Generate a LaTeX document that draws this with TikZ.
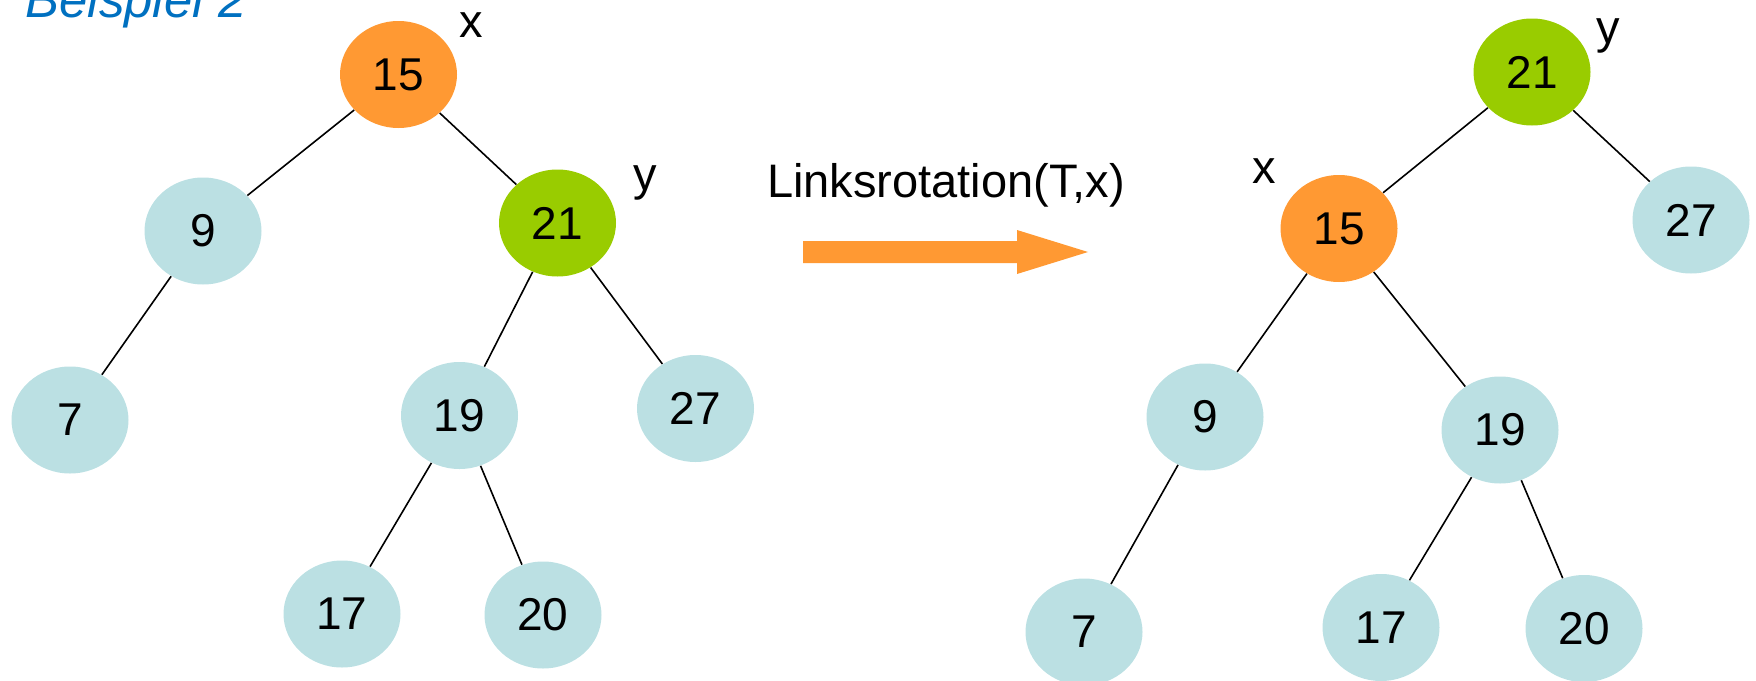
\documentclass[tikz,border=0pt]{standalone}
\usepackage{fontspec}
\setmainfont{Liberation Sans}
\usetikzlibrary{shapes.geometric}
\definecolor{nodeblue}{HTML}{BBE0E3}
\definecolor{xorange}{HTML}{FF9933}
\definecolor{ygreen}{HTML}{99CC00}
\definecolor{titleblue}{HTML}{0070C0}
\begin{document}
\begin{tikzpicture}[x=0.5pt,y=-0.5pt,
  tnode/.style={ellipse, fill=nodeblue, inner sep=0pt, minimum width=58.5pt, minimum height=53.5pt, font=\fontsize{23}{27}\selectfont},
  xnode/.style={tnode, fill=xorange},
  ynode/.style={tnode, fill=ygreen},
  conn/.style={draw=black, line width=0.8pt},
  lbl/.style={font=\fontsize{23.5}{27}\selectfont, anchor=base, inner sep=0pt},
  bigarrow/.style={fill=xorange, draw=none}]
\useasboundingbox (0,0) rectangle (1756,680);

% title
\node[anchor=base west, inner sep=0pt, text=titleblue, font=\fontsize{25.5}{30}\selectfont\itshape] (title) at (25,18) {Beispiel 2};

% left tree
\node[xnode] (L15) at (398.5,74.5) {15};
\node[tnode] (L9)  at (203,231) {9};
\node[ynode] (L21) at (557.5,223) {21};
\node[tnode] (L7)  at (70,420) {7};
\node[tnode] (L19) at (459.5,415.5) {19};
\node[tnode] (L27) at (695.5,408.5) {27};
\node[tnode] (L17) at (342,614) {17};
\node[tnode] (L20) at (543,615) {20};
\node[lbl] (Lx) at (471,37) {x};
\node[lbl] (Ly) at (645,190) {y};

\draw[conn] (L15) -- (L9);
\draw[conn] (L15) -- (L21);
\draw[conn] (L9) -- (L7);
\draw[conn] (L21) -- (L19);
\draw[conn] (L21) -- (L27);
\draw[conn] (L19) -- (L17);
\draw[conn] (L19) -- (L20);

% arrow and caption
\node[lbl] (cap) at (946,197) {Linksrotation(T,x)};
\fill[bigarrow] (803,241) -- (1017,241) -- (1017,230) -- (1088,252) -- (1017,274) -- (1017,263) -- (803,263) -- cycle;

% right tree
\node[ynode] (R21) at (1532,72) {21};
\node[xnode] (R15) at (1339,228.5) {15};
\node[tnode] (R27) at (1691,220) {27};
\node[tnode] (R9)  at (1205,417) {9};
\node[tnode] (R19) at (1500,430) {19};
\node[tnode] (R7)  at (1084,632) {7};
\node[tnode] (R17) at (1381,627.5) {17};
\node[tnode] (R20) at (1584,628.5) {20};
\node[lbl] (Rx) at (1264,183) {x};
\node[lbl] (Ry) at (1608,43) {y};

\draw[conn] (R21) -- (R15);
\draw[conn] (R21) -- (R27);
\draw[conn] (R15) -- (R9);
\draw[conn] (R15) -- (R19);
\draw[conn] (R9) -- (R7);
\draw[conn] (R19) -- (R17);
\draw[conn] (R19) -- (R20);
\end{tikzpicture}
\end{document}
